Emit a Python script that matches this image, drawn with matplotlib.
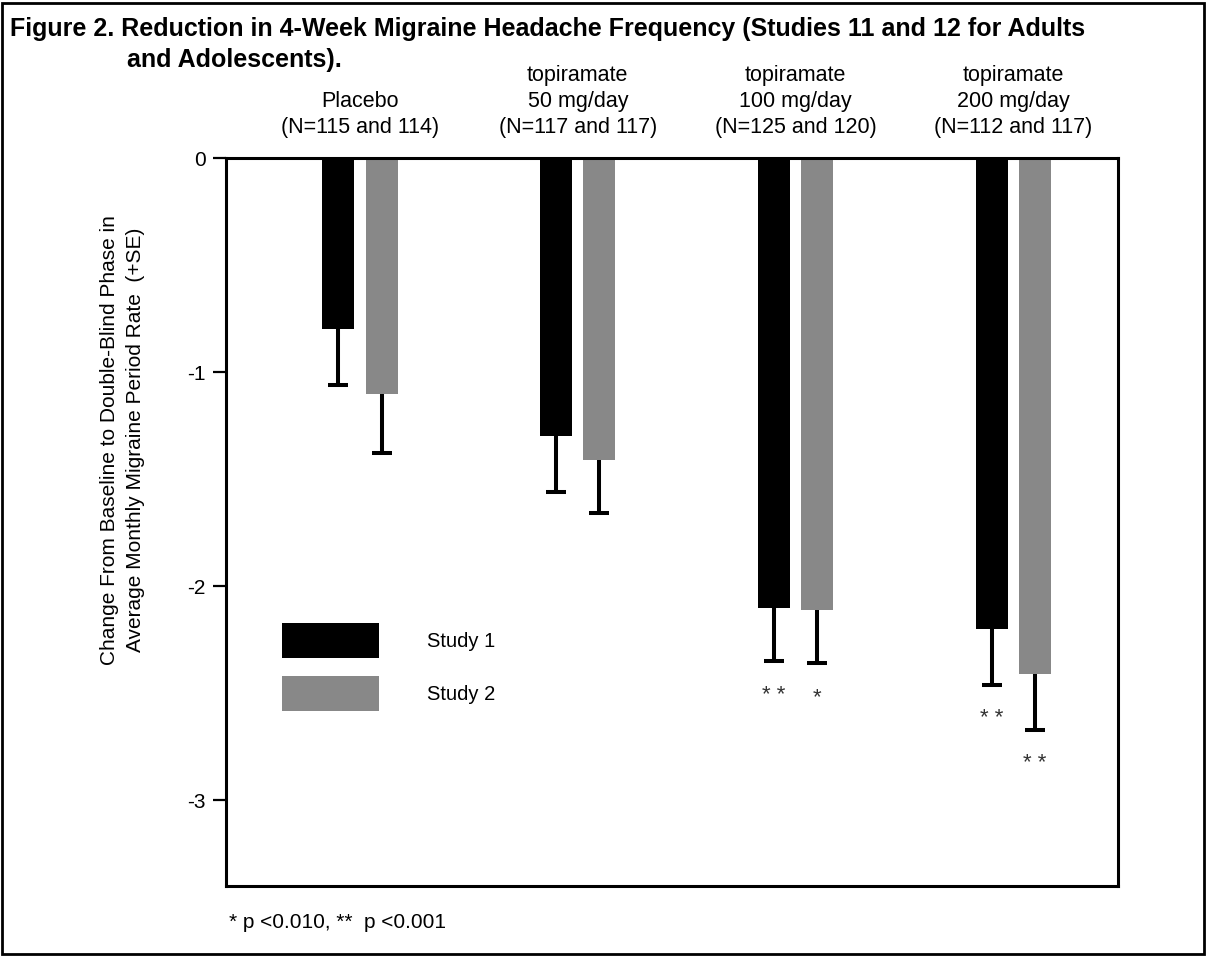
import matplotlib
matplotlib.use("Agg")
import matplotlib.pyplot as plt
import numpy as np
from matplotlib.patches import Rectangle

plt.rcParams["font.family"] = ["Liberation Sans", "DejaVu Sans"]
plt.rcParams["axes.unicode_minus"] = False

# Data
groups = ["Placebo\n(N=115 and 114)",
          "topiramate\n50 mg/day\n(N=117 and 117)",
          "topiramate\n100 mg/day\n(N=125 and 120)",
          "topiramate\n200 mg/day\n(N=112 and 117)"]
study1_mean = [-0.80, -1.30, -2.10, -2.20]
study1_se = [0.26, 0.26, 0.25, 0.26]
study2_mean = [-1.10, -1.41, -2.11, -2.41]
study2_se = [0.28, 0.25, 0.25, 0.26]
study1_sig = ["", "", "* *", "* *"]
study2_sig = ["", "", "*", "* *"]
yticks = [0, -1, -2, -3]

x = np.arange(len(groups))
offset = 0.099
width = 0.147

fig = plt.figure(figsize=(12.06, 9.57), dpi=100)
ax = fig.add_axes([0.1874, 0.0742, 0.7396, 0.7607])

b1 = ax.bar(x - offset, study1_mean, width, color="black", label="Study 1")
b2 = ax.bar(x + offset, study2_mean, width, color="#888888", label="Study 2")

# error bars: lower whisker only
for xs, m, se in [(x - offset, study1_mean, study1_se), (x + offset, study2_mean, study2_se)]:
    low = np.array(m) - np.array(se)
    ax.vlines(xs, m, low, color="black", lw=2.9)
    ax.plot(xs, low, linestyle="none", marker="_", markersize=15, mew=2.9, color="black")

# significance markers
for xs, m, se, sig in [(x - offset, study1_mean, study1_se, study1_sig),
                       (x + offset, study2_mean, study2_se, study2_sig)]:
    for xi, mi, si, s in zip(xs, m, se, sig):
        if s:
            ax.annotate(s, (xi, mi - si), xytext=(0, -34), textcoords="offset pixels",
                        ha="center", va="center", fontsize=16, color="#333333")

# group labels above the plot
for xi, g in zip(x, groups):
    ax.annotate(g, (xi, 1), xycoords=("data", "axes fraction"), xytext=(0, 20),
                textcoords="offset pixels", ha="center", va="bottom", fontsize=15.5,
                linespacing=1.3)

ax.set_xlim(-0.615, 3.48)
ax.set_ylim(-3.4, 0)
ax.set_yticks(yticks)
ax.set_yticklabels([str(t) for t in yticks], fontsize=15)
ax.set_xticks([])
ax.tick_params(axis="y", length=9.5, width=1.6, pad=5)
for sp in ax.spines.values():
    sp.set_linewidth(2.2)

ax.set_ylabel("Change From Baseline to Double-Blind Phase in\n"
              "Average Monthly Migraine Period Rate  (+SE)", fontsize=15,
              linespacing=1.45, va="center")
ax.yaxis.set_label_coords(-0.116, 0.613)

ax.legend(handles=[b1, b2], loc="upper left", bbox_to_anchor=(0.0628, 0.361),
          frameon=False, fontsize=14.5, handlelength=4.8, handleheight=2.3,
          handletextpad=2.4, labelspacing=0.9, borderpad=0, borderaxespad=0)

fig.text(10 / 1206, 1 - 29 / 957,
         "Figure 2. Reduction in 4-Week Migraine Headache Frequency (Studies 11 and 12 for Adults",
         fontsize=18, fontweight="bold", va="center", ha="left")
fig.text(127 / 1206, 1 - 60 / 957, "and Adolescents).",
         fontsize=18, fontweight="bold", va="center", ha="left")

fig.text(229 / 1206, 1 - 923 / 957, "* p <0.010, **  p <0.001", fontsize=15,
         va="center", ha="left")

fig.add_artist(Rectangle((0.002, 0.003), 0.996, 0.994, transform=fig.transFigure,
                         fill=False, lw=2, color="black"))

fig.savefig("out.png", dpi=100, facecolor="white")
